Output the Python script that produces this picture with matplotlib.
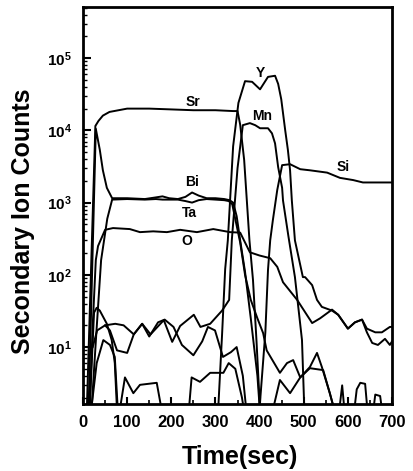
import matplotlib
matplotlib.use("Agg")
import matplotlib.pyplot as plt
from matplotlib.ticker import LogLocator, MultipleLocator, NullFormatter

plt.rcParams["font.family"] = ["Liberation Sans", "DejaVu Sans"]
plt.rcParams["font.weight"] = "bold"
plt.rcParams["mathtext.fontset"] = "custom"
plt.rcParams["mathtext.bf"] = "Liberation Sans:bold"
plt.rcParams["mathtext.rm"] = "Liberation Sans:bold"

# ---- SIMS depth profile ----
sr_t = [8, 28, 35, 45, 60, 100, 150, 200, 250, 300, 340, 350, 356, 365, 377, 385, 393, 402]
sr_v = [1, 1.15e4, 1.35e4, 1.6e4, 1.8e4, 2.0e4, 2.0e4, 1.95e4, 1.9e4, 1.9e4, 1.85e4, 1.85e4,
        1.2e4, 3.9e3, 300, 85, 12, 1]

bi_t = [12, 29, 38, 45, 54, 66, 100, 140, 165, 180, 195, 215, 232, 247, 262, 280, 300, 320,
        332, 340, 348, 356, 367, 380, 395, 402]
bi_v = [1, 1.05e4, 5.4e3, 2.8e3, 1.6e3, 1.15e3, 1.15e3, 1.12e3, 1.18e3, 1.22e3, 1.15e3, 1.12e3,
        1.2e3, 1.38e3, 1.25e3, 1.15e3, 1.15e3, 1.12e3, 1.08e3, 1.0e3, 650, 300, 110, 25, 4, 1]

ta_t = [18, 30, 41, 55, 66, 100, 140, 165, 180, 195, 215, 232, 247, 262, 280, 300, 320, 330,
        338, 346, 356, 367, 380, 395, 408, 416, 446, 462, 476, 492, 514, 530, 541, 559, 575]
ta_v = [1, 15, 160, 600, 1.1e3, 1.12e3, 1.1e3, 1.12e3, 1.1e3, 1.1e3, 1.1e3, 1.05e3, 1.0e3,
        1.08e3, 1.12e3, 1.1e3, 1.08e3, 1.05e3, 950, 550, 280, 100, 45, 25, 15.6, 9, 4.4, 6,
        6.6, 3.8, 5.3, 8.3, 5.3, 2.3, 1]

o_t = [14, 22, 29, 34, 50, 68, 106, 129, 159, 190, 220, 258, 295, 333, 356, 378, 400, 424,
       440, 453, 485, 519, 537, 564, 578, 600, 616, 632, 643, 655, 668, 684, 695, 700]
o_v = [1, 20, 160, 250, 420, 444, 430, 390, 400, 390, 420, 390, 430, 390, 384, 205, 185, 170,
       129, 79, 45, 21.5, 25, 33, 28, 18, 22, 24, 16, 11.4, 10.7, 13, 10.7, 12]

y_t = [305, 315, 322, 328, 340, 352, 367, 383, 401, 419, 435, 442, 449, 458, 464, 469, 473,
       480, 498, 503, 519, 530, 541, 564, 578, 600, 616, 632, 643, 662, 677, 695, 700]
y_v = [1, 15, 120, 300, 6000, 2.4e4, 4.8e4, 4.7e4, 3.7e4, 5.5e4, 5.7e4, 4.4e4, 2.7e4, 1.0e4,
       5.4e3, 2.8e3, 1.07e3, 300, 93, 93, 72, 45, 36, 32, 28, 18, 22, 24, 18, 16, 16, 19, 19]

mn_t = [22, 32, 50, 73, 92, 115, 134, 153, 183, 202, 220, 251, 266, 288, 315, 331, 337, 350,
        362, 378, 390, 401, 419, 428, 435, 442, 451, 453, 465, 480, 496, 502]
mn_v = [10, 17, 20, 21, 20, 15, 21, 15, 23.6, 11.8, 19.6, 28, 19, 21, 32, 45, 300, 3000,
        1.18e4, 1.26e4, 1.18e4, 1.07e4, 1.07e4, 9.1e3, 6.6e3, 3.1e3, 1.6e3, 1.07e3, 350, 93,
        12.5, 1]

si_t = [398, 413, 419, 424, 430, 440, 451, 469, 492, 514, 553, 582, 612, 634, 695, 700]
si_v = [1, 16, 117, 300, 570, 1.5e3, 3.3e3, 3.4e3, 2.9e3, 2.8e3, 2.6e3, 2.2e3, 2.05e3, 1.9e3,
        1.9e3, 1.9e3]

# low-level noisy traces (unlabelled)
n1_t = [14, 25, 31, 38, 54, 65, 72, 78]
n1_v = [1, 30, 35, 32, 21, 12.5, 6, 1]
n2_t = [50, 61, 77, 100, 115, 134, 150, 170, 185, 205, 224, 250, 270, 283, 299, 317, 335,
        348, 362, 372]
n2_v = [20, 17, 9, 8.3, 15, 21, 14, 22, 24, 19, 10.7, 7.7, 12, 19, 17, 7.3, 8.5, 10, 4, 1]
l1_t = [16, 31, 46, 61, 72, 80, 95, 114, 129, 167, 182]
l1_v = [1, 6, 12.5, 10.7, 7.3, 1, 3.8, 2.3, 3.0, 3.2, 1]
l2_t = [238, 246, 265, 288, 318, 330, 345, 360, 368]
l2_v = [1, 3.8, 3.3, 4.4, 4.4, 6, 5, 2, 1]
r2_t = [425, 446, 469, 492, 514, 544, 559, 575]
r2_v = [1, 3.5, 2.3, 3.8, 5.1, 4.8, 2.3, 1]
s1_t = [578, 587, 594]
s1_v = [1, 2.95, 1]
s2_t = [612, 620, 628, 639, 646]
s2_v = [1, 2.6, 3.2, 3.1, 1]
s3_t = [655, 662, 673, 680]
s3_v = [1, 2.2, 2.1, 1]

traces = [(sr_t, sr_v), (bi_t, bi_v), (ta_t, ta_v), (o_t, o_v), (y_t, y_v), (mn_t, mn_v),
          (si_t, si_v), (n1_t, n1_v), (n2_t, n2_v), (l1_t, l1_v), (l2_t, l2_v),
          (r2_t, r2_v), (s1_t, s1_v), (s2_t, s2_v), (s3_t, s3_v)]

labels = ["Sr", "Bi", "Ta", "O", "Y", "Mn", "Si"]
label_t = [249, 247, 242, 236, 401, 405, 589]
label_v = [2.45e4, 1.9e3, 710, 295, 6.2e4, 1.6e4, 3.1e3]

fig = plt.figure(figsize=(4.14, 4.71), dpi=100)
ax = fig.add_axes([0.2005, 0.1423, 0.7465, 0.8428])

for t, v in traces:
    ax.plot(t, v, color="black", lw=1.4)

for lab, t, v in zip(labels, label_t, label_v):
    ax.text(t, v, lab, fontsize=10, fontweight="bold", ha="center", va="center")

ax.set_yscale("log")
ax.set_xlim(0, 700)
ax.set_ylim(1.63, 5.1e5)

ax.set_xticks([0, 100, 200, 300, 400, 500, 600, 700])
ax.xaxis.set_minor_locator(MultipleLocator(50))
ax.set_yticks([10, 100, 1e3, 1e4, 1e5])
ax.set_yticklabels([r"$\mathbf{10^{1}}$", r"$\mathbf{10^{2}}$", r"$\mathbf{10^{3}}$",
                    r"$\mathbf{10^{4}}$", r"$\mathbf{10^{5}}$"])
ax.yaxis.set_minor_locator(LogLocator(base=10, subs=range(2, 10)))
ax.yaxis.set_minor_formatter(NullFormatter())

ax.tick_params(axis="x", which="major", direction="in", length=5, width=1.5, labelsize=12, pad=8)
ax.tick_params(axis="x", which="minor", direction="in", length=3, width=1.2)
ax.tick_params(axis="y", which="major", direction="in", length=6, width=1.5, labelsize=11, pad=8)
ax.tick_params(axis="y", which="minor", direction="in", length=3, width=1.0)
for lbl in ax.get_xticklabels():
    lbl.set_fontweight("bold")

for sp in ax.spines.values():
    sp.set_linewidth(2)

fig.text(23 / 414, 1 - 221 / 471, "Secondary Ion Counts", rotation=90, fontsize=18,
         fontweight="bold", ha="center", va="center")
fig.text(240 / 414, 1 - 457 / 471, "Time(sec)", fontsize=18, fontweight="bold",
         ha="center", va="center")

fig.savefig("out.png", dpi=100)
